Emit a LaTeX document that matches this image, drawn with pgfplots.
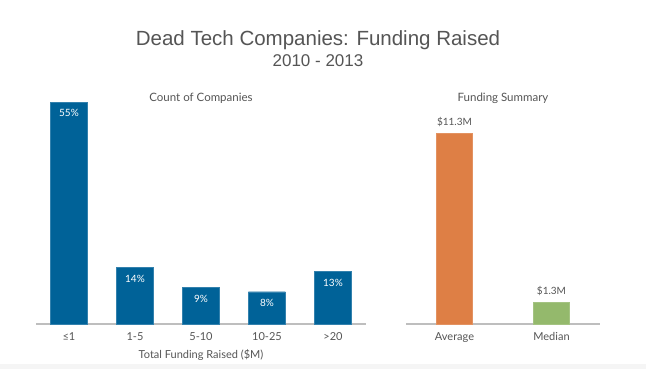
\documentclass[border=0pt]{standalone}
\usepackage{pgfplots}
\pgfplotsset{compat=1.18}
\usepackage{fontspec}
\setmainfont{Lato}
\newfontfamily\titlefont{Liberation Sans}
\definecolor{barblue}{RGB}{0,98,152}
\definecolor{barorange}{RGB}{222,127,69}
\definecolor{bargreen}{RGB}{148,185,108}
\definecolor{txtgray}{RGB}{85,85,85}
\definecolor{basegray}{RGB}{190,190,190}
\begin{document}
\begin{tikzpicture}[x=1pt,y=1pt]
\path[fill=white] (0,0) rectangle (646,369);
\fill[black!4] (0,0) rectangle (646,5);
\node[font=\titlefont\fontsize{20.5}{24}\selectfont, text=txtgray] at (318,329) {Dead Tech Companies: Funding Raised};
\node[font=\titlefont\fontsize{17}{19}\selectfont, text=txtgray] at (318,308) {2010 - 2013};
\pgfplotsset{
  base/.style={
    scale only axis, height=224pt, ymin=0,
    axis x line*=bottom, axis y line=none,
    x axis line style={basegray, line width=1.6pt, -},
    major tick length=0pt,
    /pgf/number format/assume math mode=true,
    xticklabel style={font=\fontsize{11}{13}\selectfont, text=txtgray, yshift=-5pt},
    title style={font=\fontsize{11.5}{13}\selectfont, text=txtgray, yshift=-13pt},
    clip=false,
  }
}
\begin{axis}[base, at={(36pt,45pt)}, anchor=south west,
  width=330pt, xmin=-0.5, xmax=4.5, ymax=55.5,
  xtick={0,1,2,3,4},
  xticklabels={≤1,1-5,5-10,10-25,>20},
  xlabel={Total Funding Raised (\$M)},
  xlabel style={font=\fontsize{11}{13}\selectfont, text=txtgray, yshift=-2pt},
  title={Count of Companies},
  nodes near coords={\pgfmathprintnumber{\pgfplotspointmeta}\%},
  nodes near coords style={anchor=north, yshift=-4pt, text=white, font=\fontsize{10}{12}\selectfont},
]
\addplot[ybar, bar width=37pt, fill=barblue, draw=barblue!80!white] coordinates {(0,55) (1,14) (2,9) (3,8) (4,13)};
\end{axis}
\begin{axis}[base, at={(406pt,45pt)}, anchor=south west,
  width=194pt, xmin=-0.5, xmax=1.5, ymax=13.25,
  xtick={0,1},
  xticklabels={Average,Median},
  title={Funding Summary},
  nodes near coords={\$\pgfmathprintnumber[fixed,precision=1,fixed zerofill]{\pgfplotspointmeta}M},
  nodes near coords style={anchor=south, yshift=3pt, text=txtgray, font=\fontsize{10}{12}\selectfont},
]
\addplot[ybar, bar width=36pt, fill=barorange, draw=barorange!85!white] coordinates {(0,11.3)};
\addplot[ybar, bar width=36pt, fill=bargreen, draw=bargreen!85!white] coordinates {(1,1.3)};
\end{axis}
\end{tikzpicture}
\end{document}
